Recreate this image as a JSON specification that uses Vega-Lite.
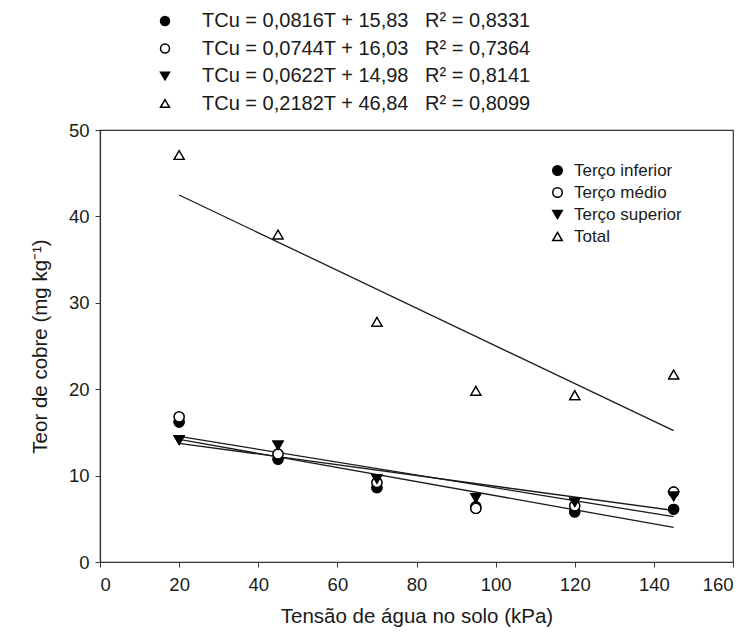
{
  "$schema": "https://vega.github.io/schema/vega-lite/v6.json",
  "width": 633,
  "height": 432,
  "autosize": {"type": "none"},
  "padding": {"left": 100, "top": 130, "right": 19, "bottom": 82},
  "background": "white",
  "datasets": {
    "pts": [
      {"serie": "Terço inferior", "T": 20, "cu": 16.2},
      {"serie": "Terço inferior", "T": 45, "cu": 11.9},
      {"serie": "Terço inferior", "T": 70, "cu": 8.6},
      {"serie": "Terço inferior", "T": 95, "cu": 6.4},
      {"serie": "Terço inferior", "T": 120, "cu": 5.8},
      {"serie": "Terço inferior", "T": 145, "cu": 6.1},
      {"serie": "Terço médio", "T": 20, "cu": 16.8},
      {"serie": "Terço médio", "T": 45, "cu": 12.5},
      {"serie": "Terço médio", "T": 70, "cu": 9.2},
      {"serie": "Terço médio", "T": 95, "cu": 6.2},
      {"serie": "Terço médio", "T": 120, "cu": 6.5},
      {"serie": "Terço médio", "T": 145, "cu": 8.1},
      {"serie": "Terço superior", "T": 20, "cu": 14.1},
      {"serie": "Terço superior", "T": 45, "cu": 13.5},
      {"serie": "Terço superior", "T": 70, "cu": 9.6},
      {"serie": "Terço superior", "T": 95, "cu": 7.4},
      {"serie": "Terço superior", "T": 120, "cu": 6.9},
      {"serie": "Terço superior", "T": 145, "cu": 7.6},
      {"serie": "Total", "T": 20, "cu": 47.1},
      {"serie": "Total", "T": 45, "cu": 37.9},
      {"serie": "Total", "T": 70, "cu": 27.8},
      {"serie": "Total", "T": 95, "cu": 19.8},
      {"serie": "Total", "T": 120, "cu": 19.3},
      {"serie": "Total", "T": 145, "cu": 21.7}
    ],
    "eqs": [
      {"serie": "Terço inferior", "eq": "TCu = 0,0816T + 15,83\u00a0\u00a0\u00a0R² = 0,8331"},
      {"serie": "Terço médio", "eq": "TCu = 0,0744T + 16,03\u00a0\u00a0\u00a0R² = 0,7364"},
      {"serie": "Terço superior", "eq": "TCu = 0,0622T + 14,98\u00a0\u00a0\u00a0R² = 0,8141"},
      {"serie": "Total", "eq": "TCu = 0,2182T + 46,84\u00a0\u00a0\u00a0R² = 0,8099"}
    ],
    "fits": [
      {"serie": "Terço inferior", "T": 20, "fit": 14.20},
      {"serie": "Terço inferior", "T": 145, "fit": 4.00},
      {"serie": "Terço médio", "T": 20, "fit": 14.54},
      {"serie": "Terço médio", "T": 145, "fit": 5.24},
      {"serie": "Terço superior", "T": 20, "fit": 13.74},
      {"serie": "Terço superior", "T": 145, "fit": 5.96},
      {"serie": "Total", "T": 20, "fit": 42.48},
      {"serie": "Total", "T": 145, "fit": 15.20}
    ]
  },
  "layer": [
    {
      "data": {"name": "fits"},
      "mark": {"type": "line", "color": "#1a1a1a", "strokeWidth": 1.3},
      "encoding": {
        "x": {"field": "T", "type": "quantitative"},
        "y": {"field": "fit", "type": "quantitative"},
        "detail": {"field": "serie"}
      }
    },
    {
      "data": {"name": "pts"},
      "mark": {"type": "point", "filled": true, "stroke": "black", "strokeWidth": 1.3, "size": 100, "opacity": 1},
      "encoding": {
        "x": {
          "field": "T", "type": "quantitative",
          "scale": {"domain": [0, 160], "nice": false, "zero": false},
          "axis": {"values": [0, 20, 40, 60, 80, 100, 120, 140, 160], "title": "Tensão de água no solo (kPa)"}
        },
        "y": {
          "field": "cu", "type": "quantitative",
          "scale": {"domain": [0, 50], "nice": false},
          "axis": {"values": [0, 10, 20, 30, 40, 50], "title": "Teor de cobre (mg kg⁻¹)"}
        },
        "shape": {
          "field": "serie", "type": "nominal",
          "scale": {"domain": ["Terço inferior", "Terço médio", "Terço superior", "Total"], "range": ["circle", "circle", "triangle-down", "triangle-up"]},
          "legend": {"title": null, "orient": "none", "legendX": 449, "legendY": 32, "labelFontSize": 17, "rowPadding": 4, "labelOffset": 8, "symbolSize": 90, "symbolOpacity": 1,
            "encode": {"symbols": {"update": {"stroke": {"value": "black"}, "strokeWidth": {"value": 1.2}}}}}
        },
        "fill": {
          "field": "serie", "type": "nominal",
          "scale": {"domain": ["Terço inferior", "Terço médio", "Terço superior", "Total"], "range": ["black", "white", "black", "white"]},
          "legend": {"title": null, "orient": "none", "legendX": 449, "legendY": 32, "labelFontSize": 17, "rowPadding": 4, "labelOffset": 8, "symbolSize": 90, "symbolOpacity": 1,
            "encode": {"symbols": {"update": {"stroke": {"value": "black"}, "strokeWidth": {"value": 1.2}}}}}
        }
      }
    },
    {
      "data": {"name": "pts"},
      "transform": [
        {"lookup": "serie", "from": {"data": {"name": "eqs"}, "key": "serie", "fields": ["eq"]}}
      ],
      "mark": {"type": "point", "filled": true, "stroke": "black", "strokeWidth": 1.3, "size": 100, "opacity": 1},
      "encoding": {
        "x": {"field": "T", "type": "quantitative"},
        "y": {"field": "cu", "type": "quantitative"},
        "shape": {
          "field": "eq", "type": "nominal",
          "scale": {"domain": ["TCu = 0,0816T + 15,83\u00a0\u00a0\u00a0R² = 0,8331", "TCu = 0,0744T + 16,03\u00a0\u00a0\u00a0R² = 0,7364", "TCu = 0,0622T + 14,98\u00a0\u00a0\u00a0R² = 0,8141", "TCu = 0,2182T + 46,84\u00a0\u00a0\u00a0R² = 0,8099"], "range": ["circle", "circle", "triangle-down", "triangle-up"]},
          "legend": {"title": null, "orient": "none", "legendX": 55, "legendY": -119, "labelFontSize": 20, "rowPadding": 7.5, "labelOffset": 27, "symbolSize": 80, "symbolOpacity": 1, "labelLimit": 500,
            "encode": {"symbols": {"update": {"stroke": {"value": "black"}, "strokeWidth": {"value": 1.2}}}}}
        },
        "fill": {
          "field": "eq", "type": "nominal",
          "scale": {"domain": ["TCu = 0,0816T + 15,83\u00a0\u00a0\u00a0R² = 0,8331", "TCu = 0,0744T + 16,03\u00a0\u00a0\u00a0R² = 0,7364", "TCu = 0,0622T + 14,98\u00a0\u00a0\u00a0R² = 0,8141", "TCu = 0,2182T + 46,84\u00a0\u00a0\u00a0R² = 0,8099"], "range": ["black", "white", "black", "white"]},
          "legend": {"title": null, "orient": "none", "legendX": 55, "legendY": -119, "labelFontSize": 20, "rowPadding": 7.5, "labelOffset": 27, "symbolSize": 80, "symbolOpacity": 1, "labelLimit": 500,
            "encode": {"symbols": {"update": {"stroke": {"value": "black"}, "strokeWidth": {"value": 1.2}}}}}
        }
      }
    }
  ],
  "resolve": {"scale": {"shape": "independent", "fill": "independent"}, "legend": {"shape": "independent", "fill": "independent"}},
  "config": {
    "font": "Liberation Sans",
    "view": {"stroke": "#333", "strokeWidth": 1.2},
    "axis": {
      "grid": false,
      "domainColor": "#333",
      "domainWidth": 1.2,
      "tickColor": "#333",
      "tickSize": 5,
      "labelFontSize": 18.5,
      "labelColor": "#1a1a1a",
      "labelFont": "Liberation Sans",
      "titleFontSize": 20.5,
      "titleFontWeight": "normal",
      "titleColor": "#1a1a1a",
      "titleFont": "Liberation Sans"
    },
    "axisX": {"labelPadding": 8, "titlePadding": 13},
    "axisY": {"labelPadding": 6, "titlePadding": 18},
    "legend": {"labelColor": "#1a1a1a", "labelFont": "Liberation Sans"}
  }
}
